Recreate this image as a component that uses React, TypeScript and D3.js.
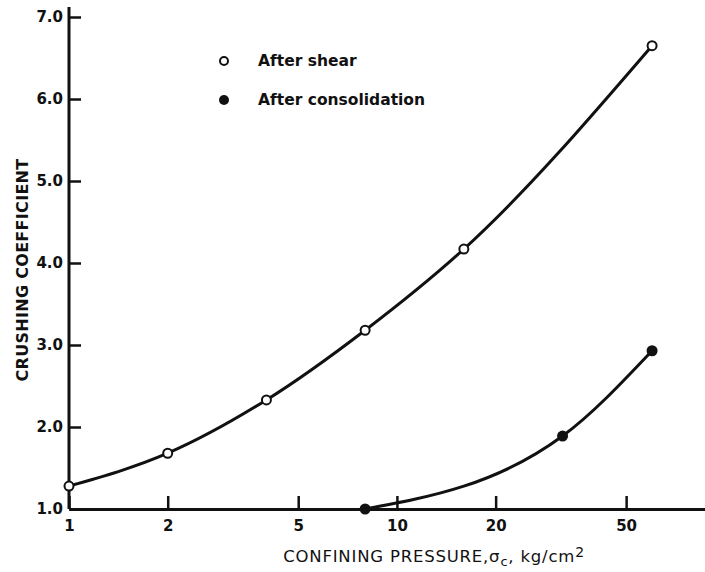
import React, { useEffect, useRef } from "react";
import * as d3 from "d3";

// After shear (open circles)
const shearPressure = [1, 2, 4, 8, 16, 60];
const shearCoeff = [1.28, 1.68, 2.33, 3.18, 4.17, 6.65];

// After consolidation (filled dots)
const consolPressure = [8, 32, 60];
const consolCoeff = [1.0, 1.89, 2.93];

const xTicks = [1, 2, 5, 10, 20, 50];
const yTicks = [1, 2, 3, 4, 5, 6, 7];

const FONT = "'DejaVu Sans', 'Liberation Sans', sans-serif";

const App = () => {
  const svgRef = useRef<SVGSVGElement>(null);

  useEffect(() => {
    const width = 705;
    const height = 572;
    const svg = d3.select(svgRef.current).attr("width", width).attr("height", height);
    svg.selectAll("*").remove();

    const x = d3.scaleLog().domain([1, 87]).range([69, 705]);
    const y = d3.scaleLinear().domain([1, 7]).range([509, 17]);

    const ink = "#111";

    // Axes
    const xAxis = svg.append("g")
      .attr("transform", `translate(0,${y(1)})`)
      .call(
        d3.axisBottom(x)
          .tickValues(xTicks)
          .tickFormat(d3.format("d"))
          .tickSizeInner(-13)
          .tickSizeOuter(0)
          .tickPadding(11)
      );
    xAxis.select(".domain").attr("stroke", ink).attr("stroke-width", 3);
    xAxis.selectAll(".tick line").attr("stroke", ink).attr("stroke-width", 2.5);
    xAxis.selectAll(".tick text")
      .attr("fill", ink)
      .style("font-family", FONT)
      .style("font-size", "15px")
      .style("font-weight", "bold");

    const yAxis = svg.append("g")
      .attr("transform", `translate(${x(1)},0)`)
      .call(
        d3.axisLeft(y)
          .tickValues(yTicks)
          .tickFormat(d3.format(".1f"))
          .tickSizeInner(-12)
          .tickSizeOuter(0)
          .tickPadding(6)
      );
    yAxis.select(".domain").remove();
    yAxis.append("line")
      .attr("x1", 0).attr("x2", 0)
      .attr("y1", y(1)).attr("y2", y(7) - 10)
      .attr("stroke", ink).attr("stroke-width", 3);
    yAxis.selectAll(".tick line").attr("stroke", ink).attr("stroke-width", 2.5);
    yAxis.selectAll(".tick text")
      .attr("fill", ink)
      .style("font-family", FONT)
      .style("font-size", "15px")
      .style("font-weight", "bold");

    // Axis titles
    const xt = svg.append("text")
      .attr("x", 434)
      .attr("y", 562)
      .attr("text-anchor", "middle")
      .attr("fill", ink)
      .style("font-family", FONT)
      .style("font-size", "16.5px")
      .style("letter-spacing", "0.8px");
    xt.append("tspan").text("CONFINING PRESSURE,\u03C3");
    xt.append("tspan").attr("dy", 4).style("font-size", "13px").text("c");
    xt.append("tspan").attr("dy", -4).text(", kg/cm");
    xt.append("tspan").attr("dy", -5).style("font-size", "14px").text("2");

    svg.append("text")
      .attr("transform", `translate(28,${270}) rotate(-90)`)
      .attr("text-anchor", "middle")
      .attr("fill", ink)
      .style("font-family", FONT)
      .style("font-size", "16px")
      .style("font-weight", "bold")
      .style("letter-spacing", "0.3px")
      .text("CRUSHING COEFFICIENT");

    // Curves
    const shear = shearPressure.map((p, i) => [p, shearCoeff[i]] as [number, number]);
    const consol = consolPressure.map((p, i) => [p, consolCoeff[i]] as [number, number]);

    const line = d3.line<[number, number]>()
      .x(d => x(d[0]))
      .y(d => y(d[1]))
      .curve(d3.curveMonotoneX);

    svg.append("path")
      .datum(shear)
      .attr("fill", "none")
      .attr("stroke", ink)
      .attr("stroke-width", 3)
      .attr("d", line);

    svg.append("path")
      .datum(consol)
      .attr("fill", "none")
      .attr("stroke", ink)
      .attr("stroke-width", 3)
      .attr("d", line);

    // Points
    svg.append("g").selectAll("circle")
      .data(shear)
      .join("circle")
      .attr("cx", d => x(d[0]))
      .attr("cy", d => y(d[1]))
      .attr("r", 4.5)
      .attr("fill", "#fff")
      .attr("stroke", ink)
      .attr("stroke-width", 2);

    svg.append("g").selectAll("circle")
      .data(consol)
      .join("circle")
      .attr("cx", d => x(d[0]))
      .attr("cy", d => y(d[1]))
      .attr("r", 5.5)
      .attr("fill", ink);

    // Legend
    const legend = svg.append("g").attr("transform", "translate(224,61)");
    legend.append("circle")
      .attr("r", 4).attr("fill", "#fff").attr("stroke", ink).attr("stroke-width", 2);
    legend.append("text")
      .attr("x", 34).attr("dy", "0.35em")
      .attr("fill", ink)
      .style("font-family", FONT).style("font-size", "15.5px").style("font-weight", "bold")
      .text("After shear");
    legend.append("circle")
      .attr("cy", 39).attr("r", 5).attr("fill", ink);
    legend.append("text")
      .attr("x", 34).attr("y", 39).attr("dy", "0.35em")
      .attr("fill", ink)
      .style("font-family", FONT).style("font-size", "15.5px").style("font-weight", "bold")
      .text("After consolidation");
  }, []);

  return (
    <svg
      ref={svgRef}
      style={{ position: "absolute", left: 0, top: 0, background: "#fff" }}
    />
  );
};

export default App;
